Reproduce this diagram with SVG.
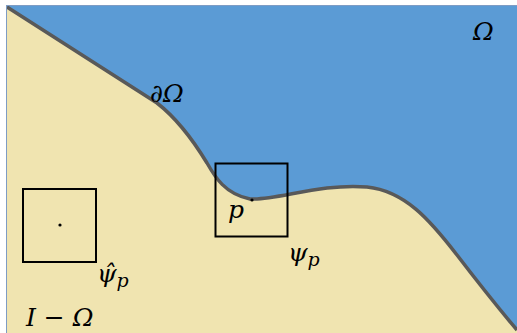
<svg xmlns="http://www.w3.org/2000/svg" width="517" height="333" viewBox="0 0 517 333">
<style>
.t{font-family:"DejaVu Serif","Liberation Serif",serif;font-style:italic;font-size:25px;fill:#000}
.box{fill:none;stroke:#000;stroke-width:2}
</style>
<rect x="0" y="0" width="517" height="333" fill="#fff"/>
<g id="omega-region">
<rect x="6" y="5" width="511" height="328" fill="#5B9BD5"/>
</g>
<g id="complement-region">
<path d="M7,7 L157,103 C175,117 190,135 207,163 C215,177 225,194 250,199 C275,201 320,183 367,187 C405,191 430,220 457,255 C480,285 500,310 517,330 L517,333 L7,333 Z" fill="#F0E4B0"/>
</g>
<g id="connectors">
<path d="M7,7 L157,103 C175,117 190,135 207,163 C215,177 225,194 250,199 C275,201 320,183 367,187 C405,191 430,220 457,255 C480,285 500,310 517,330" fill="none" stroke="#595959" stroke-width="3.5"/>
</g>
<rect x="6.5" y="5.5" width="515" height="332" fill="none" stroke="#7E9CC4" stroke-width="1"/>
<g id="box-hat">
<rect class="box" x="23" y="189" width="73" height="73"/>
<circle cx="60" cy="225" r="1.6" fill="#000"/>
</g>
<g id="box-p">
<rect class="box" x="215.5" y="163.5" width="72" height="73"/>
<circle cx="252" cy="200" r="1.6" fill="#000"/>
</g>
<g id="labels">
<text class="t" x="473" y="40">Ω</text>
<text class="t" x="150" y="102">∂Ω</text>
<text class="t" x="228" y="218">p</text>
<text class="t" x="288" y="261">ψ<tspan font-size="19" dy="5">p</tspan></text>
<text class="t" x="97" y="282">ψ̂<tspan font-size="19" dy="5">p</tspan></text>
<text class="t" x="26" y="326">I − Ω</text>
</g>
</svg>
